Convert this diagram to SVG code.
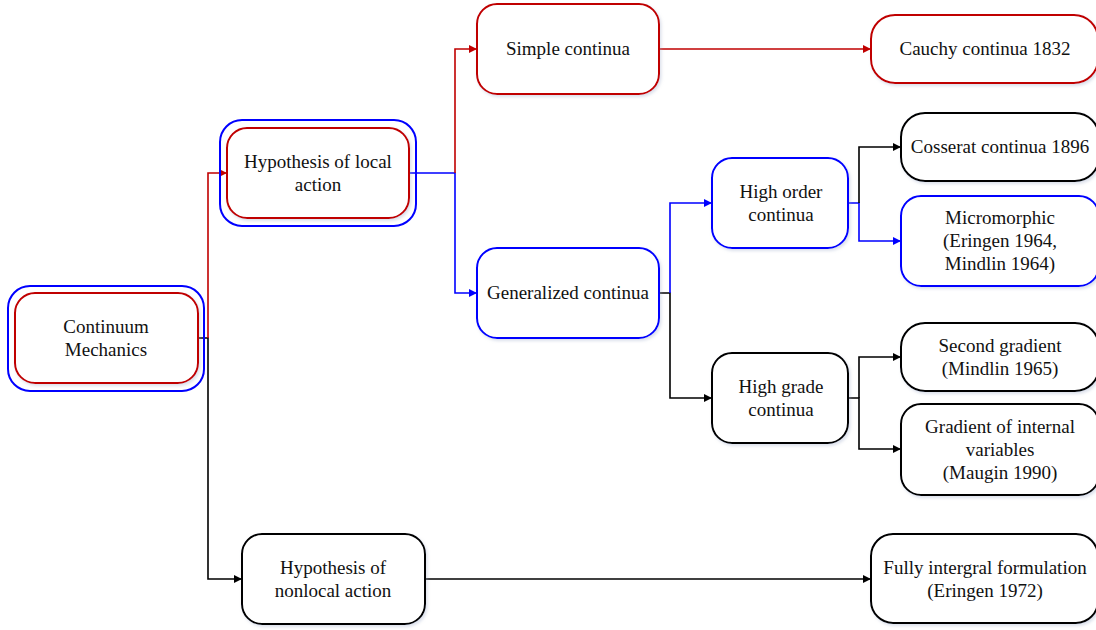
<svg xmlns="http://www.w3.org/2000/svg" width="1096" height="630" viewBox="0 0 1096 630">
<style>
text{font-family:"Liberation Serif","Times New Roman",serif;font-size:19px;fill:#111;text-anchor:middle}
.box{fill:#fff;stroke-width:2;filter:url(#sh)}
.k{stroke:#000}.r{stroke:#C00000}.b{stroke:#0000FF}
.ln{fill:none;stroke-width:1.6}
.o{fill:none;stroke-width:2}
</style>
<defs>
<filter id="sh" x="-10%" y="-10%" width="125%" height="130%">
<feDropShadow dx="1.5" dy="2" stdDeviation="1.5" flood-color="#9aa8c8" flood-opacity="0.35"/>
</filter>
<marker id="ak" viewBox="0 0 10 10" refX="10" refY="5" markerWidth="10" markerHeight="8" markerUnits="userSpaceOnUse" orient="auto"><path d="M0,0L10,5L0,10z" fill="#000"/></marker>
<marker id="ar" viewBox="0 0 10 10" refX="10" refY="5" markerWidth="10" markerHeight="8" markerUnits="userSpaceOnUse" orient="auto"><path d="M0,0L10,5L0,10z" fill="#C00000"/></marker>
<marker id="ab" viewBox="0 0 10 10" refX="10" refY="5" markerWidth="10" markerHeight="8" markerUnits="userSpaceOnUse" orient="auto"><path d="M0,0L10,5L0,10z" fill="#0000FF"/></marker>
</defs>
<g id="connectors">
<path class="ln k" d="M198,338H208V579H242" marker-end="url(#ak)"/>
<path class="ln r" d="M208,338V173H227" marker-end="url(#ar)"/>
<path class="ln b" d="M409,173H455V293H477" marker-end="url(#ab)"/>
<path class="ln r" d="M455,173V49H477" marker-end="url(#ar)"/>
<path class="ln r" d="M659,49H871" marker-end="url(#ar)"/>
<path class="ln k" d="M659,293H670V398H712" marker-end="url(#ak)"/>
<path class="ln b" d="M670,293V203H712" marker-end="url(#ab)"/>
<path class="ln b" d="M848,203H859V241H901" marker-end="url(#ab)"/>
<path class="ln k" d="M859,203V147H901" marker-end="url(#ak)"/>
<path class="ln k" d="M848,398H859V449H901" marker-end="url(#ak)"/>
<path class="ln k" d="M859,398V357H901" marker-end="url(#ak)"/>
<path class="ln k" d="M425,579H871" marker-end="url(#ak)"/>
</g>
<g id="continuum-mechanics">
<rect class="o b" x="8" y="286" width="196" height="105" rx="22"/>
<rect class="box r" x="15" y="293" width="183" height="90" rx="20"/>
<text x="106" y="333">Continuum</text>
<text x="106" y="356">Mechanics</text>
</g>
<g id="hypothesis-local">
<rect class="o b" x="220" y="120" width="196" height="106" rx="22"/>
<rect class="box r" x="227" y="128" width="182" height="90" rx="20"/>
<text x="318" y="168">Hypothesis of local</text>
<text x="318" y="191">action</text>
</g>
<g id="simple-continua">
<rect class="box r" x="477" y="4" width="182" height="90" rx="20"/>
<text x="568" y="55">Simple continua</text>
</g>
<g id="cauchy">
<rect class="box r" x="871" y="15" width="227" height="68" rx="24"/>
<text x="985" y="55">Cauchy continua 1832</text>
</g>
<g id="generalized-continua">
<rect class="box b" x="477" y="248" width="182" height="90" rx="20"/>
<text x="568" y="299">Generalized continua</text>
</g>
<g id="high-order">
<rect class="box b" x="712" y="158" width="136" height="90" rx="20"/>
<text x="781" y="198">High order</text>
<text x="781" y="221">continua</text>
</g>
<g id="high-grade">
<rect class="box k" x="712" y="353" width="136" height="90" rx="20"/>
<text x="781" y="393">High grade</text>
<text x="781" y="416">continua</text>
</g>
<g id="cosserat">
<rect class="box k" x="901" y="113" width="198" height="68" rx="24"/>
<text x="1000" y="153">Cosserat continua 1896</text>
</g>
<g id="micromorphic">
<rect class="box b" x="901" y="196" width="198" height="90" rx="20"/>
<text x="1000" y="224">Micromorphic</text>
<text x="1000" y="247">(Eringen 1964,</text>
<text x="1000" y="270">Mindlin 1964)</text>
</g>
<g id="second-gradient">
<rect class="box k" x="901" y="323" width="198" height="68" rx="24"/>
<text x="1000" y="352">Second gradient</text>
<text x="1000" y="375">(Mindlin 1965)</text>
</g>
<g id="gradient-internal">
<rect class="box k" x="901" y="404" width="198" height="91" rx="20"/>
<text x="1000" y="433">Gradient of internal</text>
<text x="1000" y="456">variables</text>
<text x="1000" y="479">(Maugin 1990)</text>
</g>
<g id="hypothesis-nonlocal">
<rect class="box k" x="242" y="534" width="183" height="90" rx="20"/>
<text x="333" y="574">Hypothesis of</text>
<text x="333" y="597">nonlocal action</text>
</g>
<g id="fully-integral">
<rect class="box k" x="871" y="534" width="227" height="89" rx="22"/>
<text x="985" y="574">Fully intergral formulation</text>
<text x="985" y="597">(Eringen 1972)</text>
</g>
</svg>
